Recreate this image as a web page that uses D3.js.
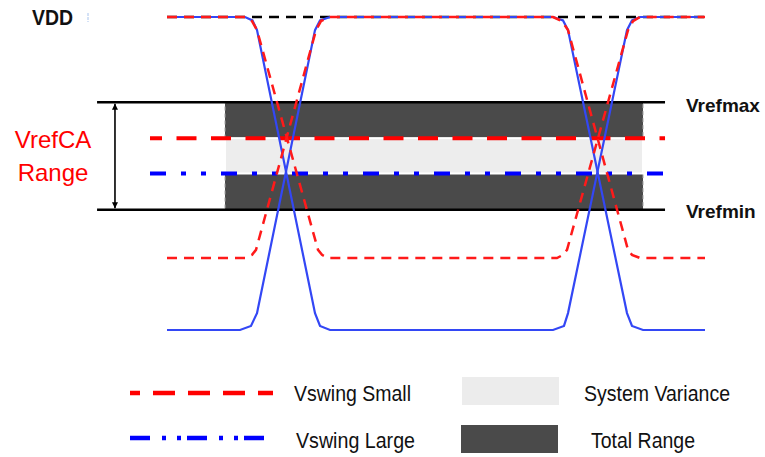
<!DOCTYPE html>
<html>
<head>
<meta charset="utf-8">
<script src="https://cdn.jsdelivr.net/npm/d3@7"></script>
<style>
  body { margin: 0; background: #fff; }
  svg { display: block; font-family: "Liberation Sans", Arial, sans-serif; }
</style>
</head>
<body>
<div id="chart"></div>
<script>
// voltage levels, normalised so VDD = 1 and the large swing low = 0
const vdd = 1.0;
const vrefMax = 0.728;
const vrefMin = 0.384;
const vrefSmall = 0.613;   // Vref for the small swing
const vrefLarge = 0.5;     // Vref for the large swing
const smallLow = 0.23;

// waveforms, [time (ns), level]
const largeStartLow = [[0,0],[1.357,0],[1.561,0.013],[1.673,0.054],[2.751,0.958],[2.844,0.989],[3.03,1],
  [7.175,1],[7.361,0.989],[7.454,0.958],[8.55,0.054],[8.643,0.013],[8.848,0],[10,0]];
const largeStartHigh = [[0,1],[1.45,1],[1.589,0.989],[1.673,0.958],[2.751,0.054],[2.844,0.013],[3.03,0],
  [7.175,0],[7.379,0.013],[7.454,0.054],[8.55,0.958],[8.643,0.989],[8.792,1],[10,1]];
const smallStartLow = [[0,0.23],[1.45,0.23],[1.58,0.24],[1.654,0.256],[2.77,0.958],[2.862,0.987],[3.03,1],
  [7.175,1],[7.342,0.987],[7.454,0.958],[8.569,0.256],[8.643,0.24],[8.792,0.23],[10,0.23]];
const smallStartHigh = [[0,1],[1.45,1],[1.58,0.987],[1.673,0.958],[2.807,0.256],[2.881,0.24],[2.993,0.23],
  [7.249,0.23],[7.361,0.24],[7.435,0.256],[8.569,0.958],[8.662,0.987],[8.792,1],[10,1]];

const levelLabels = ["VDD", "Vrefmax", "Vrefmin"];
const rangeLabel = ["VrefCA", "Range"];
const legendLabels = ["Vswing Small", "Vswing Large", "System Variance", "Total Range"];

const width = 765, height = 457;

// time spans of the reference lines and bands
const refLineSpan = [-1.3, 9.257];
const vrefLineSpan = [-0.316, 9.257];
const bandSpan = [1.078, 8.848];
const arrowTime = -0.967;

const svg = d3.select("#chart").append("svg")
  .attr("width", width)
  .attr("height", height);

const x = d3.scaleLinear().domain([0, 10]).range([167, 705]);
const y = d3.scaleLinear().domain([0, 1]).range([330, 17]);

const defs = svg.append("defs");
defs.append("marker")
  .attr("id", "arr")
  .attr("viewBox", "0 0 10 10")
  .attr("refX", 10).attr("refY", 5)
  .attr("markerWidth", 6).attr("markerHeight", 8)
  .attr("markerUnits", "userSpaceOnUse")
  .attr("orient", "auto-start-reverse")
  .append("path")
  .attr("d", "M0,0 L10,5 L0,10 z")
  .attr("fill", "#000");

// bands
svg.append("rect")
  .attr("x", x(bandSpan[0]))
  .attr("y", y(vrefMax))
  .attr("width", x(bandSpan[1]) - x(bandSpan[0]))
  .attr("height", y(vrefMin) - y(vrefMax))
  .attr("fill", "#4a4a4a")
  .attr("stroke", "#a8a8a8")
  .attr("stroke-width", 1)
  .attr("stroke-dasharray", "4,3");

svg.append("rect")
  .attr("x", x(bandSpan[0]))
  .attr("y", y(vrefSmall))
  .attr("width", x(bandSpan[1]) - x(bandSpan[0]))
  .attr("height", y(vrefLarge) - y(vrefSmall))
  .attr("fill", "#ededed")
  .attr("stroke", "#fff")
  .attr("stroke-width", 2);

// Vrefmax / Vrefmin
[vrefMax, vrefMin].forEach(function(v) {
  svg.append("line")
    .attr("x1", x(refLineSpan[0])).attr("x2", x(refLineSpan[1]))
    .attr("y1", y(v)).attr("y2", y(v))
    .attr("stroke", "#000")
    .attr("stroke-width", 2.5);
});

// Vref lines for both swings
svg.append("line")
  .attr("x1", x(vrefLineSpan[0])).attr("x2", x(vrefLineSpan[1]))
  .attr("y1", y(vrefSmall)).attr("y2", y(vrefSmall))
  .attr("stroke", "#ff0000")
  .attr("stroke-width", 4)
  .attr("stroke-dasharray", "20,14.5")
  .attr("stroke-dashoffset", 8);

svg.append("line")
  .attr("x1", x(vrefLineSpan[0])).attr("x2", x(vrefLineSpan[1]))
  .attr("y1", y(vrefLarge)).attr("y2", y(vrefLarge))
  .attr("stroke", "#0000ff")
  .attr("stroke-width", 4)
  .attr("stroke-dasharray", "16,15,5,15,5,15");

// range arrow
svg.append("line")
  .attr("x1", x(arrowTime)).attr("x2", x(arrowTime))
  .attr("y1", y(vrefMax) + 1.5).attr("y2", y(vrefMin) - 1.5)
  .attr("stroke", "#000")
  .attr("stroke-width", 1.6)
  .attr("marker-start", "url(#arr)")
  .attr("marker-end", "url(#arr)");

// VDD reference
svg.append("line")
  .attr("x1", x(0)).attr("x2", x(10))
  .attr("y1", y(vdd)).attr("y2", y(vdd))
  .attr("stroke", "#000")
  .attr("stroke-width", 2.5)
  .attr("stroke-dasharray", "10,7");

// waveforms
const line = d3.line()
  .x(function(d) { return x(d[0]); })
  .y(function(d) { return y(d[1]); });

[largeStartLow, largeStartHigh].forEach(function(w) {
  svg.append("path")
    .attr("d", line(w))
    .attr("fill", "none")
    .attr("stroke", "#3347f5")
    .attr("stroke-width", 2.2);
});

[smallStartLow, smallStartHigh].forEach(function(w) {
  svg.append("path")
    .attr("d", line(w))
    .attr("fill", "none")
    .attr("stroke", "#ff1a1a")
    .attr("stroke-width", 2.5)
    .attr("stroke-dasharray", "10,7");
});

// labels
svg.append("text")
  .attr("x", 32).attr("y", 25)
  .attr("font-size", 22).attr("font-weight", "bold")
  .attr("textLength", 41).attr("lengthAdjust", "spacingAndGlyphs")
  .attr("fill", "#111")
  .text(levelLabels[0]);

// small stray mark next to VDD
svg.append("line")
  .attr("x1", 88).attr("x2", 88).attr("y1", 13).attr("y2", 22)
  .attr("stroke", "#a9c4ee").attr("stroke-width", 1)
  .attr("stroke-dasharray", "3,1");

svg.append("text")
  .attr("x", 686).attr("y", y(vrefMax) + 10)
  .attr("font-size", 19).attr("font-weight", "bold")
  .attr("fill", "#111")
  .text(levelLabels[1]);

svg.append("text")
  .attr("x", 686).attr("y", y(vrefMin) + 8)
  .attr("font-size", 19).attr("font-weight", "bold")
  .attr("fill", "#111")
  .text(levelLabels[2]);

svg.selectAll(".rangeLabel")
  .data(rangeLabel)
  .enter().append("text")
  .attr("class", "rangeLabel")
  .attr("x", 53)
  .attr("y", function(d, i) { return 148 + i * 33; })
  .attr("text-anchor", "middle")
  .attr("font-size", 24)
  .attr("fill", "#ff0000")
  .text(function(d) { return d; });

// legend
const lg = svg.append("g");
lg.append("line")
  .attr("x1", 130).attr("x2", 273).attr("y1", 393).attr("y2", 393)
  .attr("stroke", "#ff0000").attr("stroke-width", 4.5)
  .attr("stroke-dasharray", "22,13").attr("stroke-dashoffset", 12);
lg.append("line")
  .attr("x1", 130).attr("x2", 273).attr("y1", 438).attr("y2", 438)
  .attr("stroke", "#0000ff").attr("stroke-width", 4.5)
  .attr("stroke-dasharray", "20,12,4,11,4,6");
lg.append("rect")
  .attr("x", 462).attr("y", 377).attr("width", 97).attr("height", 28)
  .attr("fill", "#ececec");
lg.append("rect")
  .attr("x", 461).attr("y", 425).attr("width", 97).attr("height", 28)
  .attr("fill", "#4a4a4a");

const legendText = [
  {x: 294, y: 401, len: 117},
  {x: 296, y: 448, len: 119},
  {x: 584, y: 401, len: 146},
  {x: 591, y: 448, len: 104}
];
lg.selectAll("text")
  .data(legendLabels)
  .enter().append("text")
  .attr("x", function(d, i) { return legendText[i].x; })
  .attr("y", function(d, i) { return legendText[i].y; })
  .attr("textLength", function(d, i) { return legendText[i].len; })
  .attr("lengthAdjust", "spacingAndGlyphs")
  .attr("font-size", 22)
  .attr("fill", "#111")
  .text(function(d) { return d; });
</script>
</body>
</html>
